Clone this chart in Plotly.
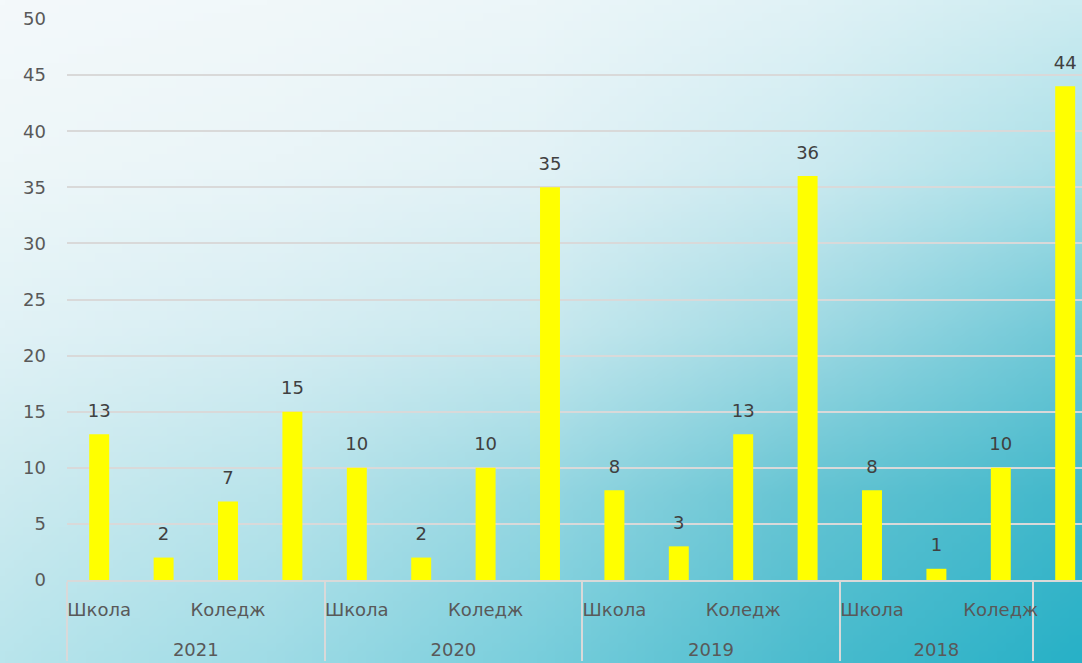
import base64, struct, zlib
import numpy as np
import plotly.graph_objects as go

# ---- data ----
years = ["2021"] * 4 + ["2020"] * 4 + ["2019"] * 4 + ["2018"] * 3 + [" "]
kinds = ["Школа", " ", "Коледж", "  "] * 3 + ["Школа", " ", "Коледж"] + ["   "]
values = [13, 2, 7, 15, 10, 2, 10, 35, 8, 3, 13, 36, 8, 1, 10, 44]
y_ticks = [0, 5, 10, 15, 20, 25, 30, 35, 40, 45, 50]

W, H = 1082, 663
ML, MR, MT, MB = 67, 0, 19, 83

# ---- background gradient image ----
grid = np.array([
    [(244, 249, 251), (241, 248, 250), (236, 246, 249), (224, 242, 246), (205, 236, 241)],
    [(238, 247, 249), (234, 245, 248), (226, 242, 246), (205, 235, 241), (170, 224, 232)],
    [(225, 242, 246), (215, 238, 243), (200, 233, 239), (160, 218, 228), (110, 200, 215)],
    [(205, 235, 240), (185, 228, 235), (150, 215, 226), (100, 196, 211), (65, 184, 203)],
    [(185, 229, 236), (160, 220, 230), (120, 206, 220), (75, 188, 206), (40, 177, 199)],
], dtype=float)
iw, ih = 120, 80
gy = np.linspace(0, grid.shape[0] - 1, ih)
gx = np.linspace(0, grid.shape[1] - 1, iw)
y0 = np.clip(np.floor(gy).astype(int), 0, grid.shape[0] - 2)
x0 = np.clip(np.floor(gx).astype(int), 0, grid.shape[1] - 2)
fy = (gy - y0)[:, None, None]
fx = (gx - x0)[None, :, None]
c00 = grid[y0][:, x0]
c01 = grid[y0][:, x0 + 1]
c10 = grid[y0 + 1][:, x0]
c11 = grid[y0 + 1][:, x0 + 1]
img = (c00 * (1 - fx) * (1 - fy) + c01 * fx * (1 - fy) + c10 * (1 - fx) * fy + c11 * fx * fy)
img = np.clip(img, 0, 255).astype(np.uint8)

def png_bytes(arr):
    h, w, _ = arr.shape
    raw = b"".join(b"\x00" + arr[r].tobytes() for r in range(h))
    def chunk(t, d):
        c = struct.pack(">I", len(d)) + t + d
        return c + struct.pack(">I", zlib.crc32(t + d) & 0xffffffff)
    return (b"\x89PNG\r\n\x1a\n" + chunk(b"IHDR", struct.pack(">IIBBBBB", w, h, 8, 2, 0, 0, 0))
            + chunk(b"IDAT", zlib.compress(raw, 9)) + chunk(b"IEND", b""))

uri = "data:image/png;base64," + base64.b64encode(png_bytes(img)).decode()

pw, ph = W - ML - MR, H - MT - MB
cat_w = 64.4
x_hi = -0.5 + pw / cat_w

# inner tick labels get an extra (taller) blank line to push the year row lower
kinds_lbl = [k + "<br><span style='font-size:42px'>\u00a0</span>" for k in kinds]

fig = go.Figure()
fig.add_trace(go.Bar(
    x=[years, kinds_lbl], y=values,
    marker=dict(color="#ffff00", line=dict(width=0)),
    width=0.31, hoverinfo="skip",
))
fig.add_trace(go.Scatter(
    x=[years, kinds_lbl], y=values,
    mode="markers+text",
    text=[str(v) for v in values],
    textposition="top center",
    textfont=dict(size=18, color="#404040", family="DejaVu Sans"),
    marker=dict(size=19, opacity=0),
    cliponaxis=False, hoverinfo="skip", showlegend=False,
))

fig.update_layout(
    width=W, height=H,
    margin=dict(l=ML, r=MR, t=MT, b=MB, pad=0),
    paper_bgcolor="rgba(0,0,0,0)", plot_bgcolor="rgba(0,0,0,0)",
    font=dict(family="DejaVu Sans", size=18, color="#595959"),
    showlegend=False,
    images=[dict(
        source=uri, xref="paper", yref="paper",
        x=-ML / pw, y=1 + MT / ph, sizex=W / pw, sizey=H / ph,
        xanchor="left", yanchor="top", sizing="stretch", layer="below",
    )],
)
fig.update_xaxes(
    type="multicategory", range=[-0.5, x_hi], automargin=False,
    showline=True, linecolor="#d9d9d9", linewidth=1.5,
    showgrid=False, ticks="", showdividers=True, tickangle=0,
    dividercolor="#d9d9d9", dividerwidth=1.5,
    ticklabelstandoff=13,
    tickfont=dict(size=18, color="#595959"),
)
fig.update_yaxes(
    range=[0, 50], tickvals=y_ticks, ticktext=[str(t) for t in y_ticks],
    automargin=False,
    showgrid=True, gridcolor="#d9d9d9", gridwidth=1.5,
    zeroline=False, showline=False, ticks="",
    ticklabelstandoff=20,
    tickfont=dict(size=18, color="#595959"),
)

fig.write_html(
    "out.html",
    config={"displayModeBar": False},
    post_script="document.body.style.margin='0';document.body.style.overflow='hidden';",
)
